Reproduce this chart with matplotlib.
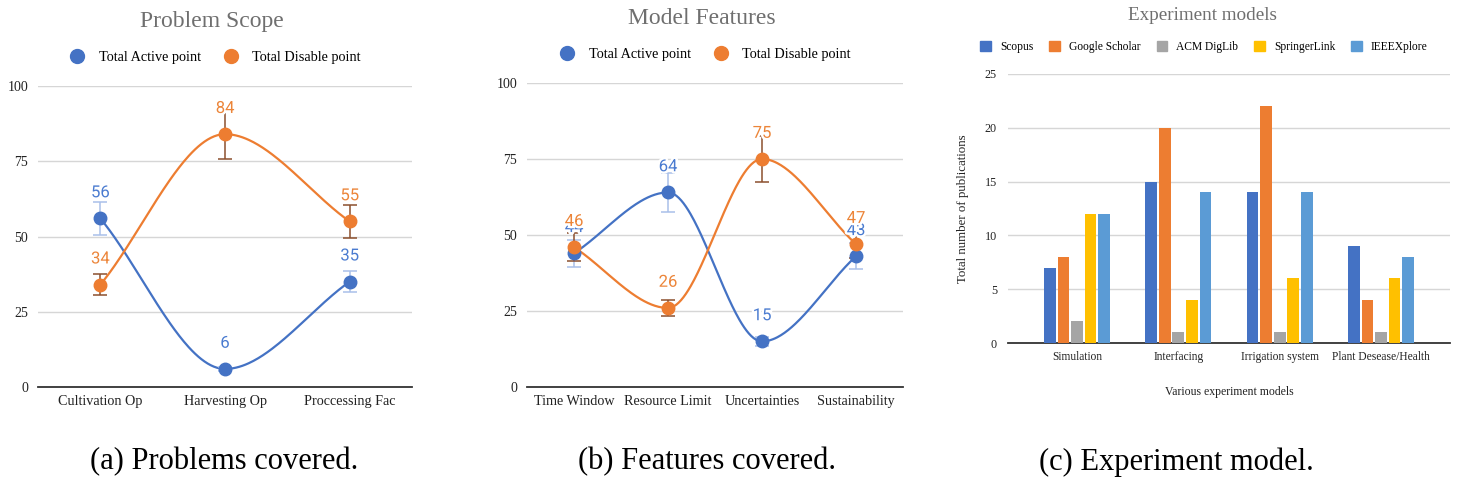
import numpy as np
import matplotlib
matplotlib.use("Agg")
import matplotlib.pyplot as plt
import matplotlib.patheffects as pe
from matplotlib.patches import Patch
from matplotlib.lines import Line2D

# (a) problem scope
prob_cats = ["Cultivation Op", "Harvesting Op", "Proccessing Fac"]
prob_active = [56, 6, 35]
prob_disable = [34, 84, 55]
prob_active_err = [5.6, 0.6, 3.5]
prob_disable_err = [3.4, 8.4, 5.5]

# (b) model features
feat_cats = ["Time Window", "Resource Limit", "Uncertainties", "Sustainability"]
feat_active = [44, 64, 15, 43]
feat_disable = [46, 26, 75, 47]
feat_active_err = [4.4, 6.4, 1.5, 4.3]
feat_disable_err = [4.6, 2.6, 7.5, 4.7]

# (c) experiment models
exp_cats = ["Simulation", "Interfacing", "Irrigation system", "Plant Desease/Health"]
exp_sources = ["Scopus", "Google Scholar", "ACM DigLib", "SpringerLink", "IEEEXplore"]
scopus = [7, 15, 14, 9]
google_scholar = [8, 20, 22, 4]
acm_diglib = [2, 1, 1, 1]
springerlink = [12, 4, 6, 6]
ieeexplore = [12, 14, 14, 8]

BLUE = "#4472C4"
ORANGE = "#ED7D31"
SERIF = "Liberation Serif"


def smooth(ys, n=80):
    # cubic hermite, flat at local extrema, secant slope at the ends
    ys = np.asarray(ys, float)
    d = np.diff(ys)
    m = np.zeros_like(ys)
    m[0], m[-1] = d[0], d[-1]
    for i in range(1, len(ys) - 1):
        if d[i - 1] * d[i] > 0:
            m[i] = (d[i - 1] + d[i]) / 2
    xs_out, ys_out = [], []
    for i in range(len(ys) - 1):
        t = np.linspace(0, 1, n)
        h00 = 2 * t**3 - 3 * t**2 + 1
        h10 = t**3 - 2 * t**2 + t
        h01 = -2 * t**3 + 3 * t**2
        h11 = t**3 - t**2
        xs_out.append(i + t)
        ys_out.append(h00 * ys[i] + h10 * m[i] + h01 * ys[i + 1] + h11 * m[i + 1])
    return np.concatenate(xs_out), np.concatenate(ys_out)


def style_axes(ax, ymax, step):
    ax.set_ylim(0, ymax)
    ax.set_yticks(np.arange(0, ymax + 1, step))
    ax.grid(axis="y", color="#d6d6d6", lw=1)
    ax.set_axisbelow(True)
    for s in ["top", "right", "left"]:
        ax.spines[s].set_visible(False)
    ax.spines["bottom"].set_color("#333333")
    ax.spines["bottom"].set_linewidth(1.3)
    ax.tick_params(length=0, colors="#222222")


def line_panel(ax, cats, active, disable, a_err, d_err):
    x = np.arange(len(cats))
    series = [
        (active, a_err, BLUE, "#a9c0ea", "#4a7bd0", "Total Active point"),
        (disable, d_err, ORANGE, "#8c4f2d", "#ec8539", "Total Disable point"),
    ]
    for k, (vals, err, col, ecol, lcol, name) in enumerate(series):
        sx, sy = smooth(vals)
        ax.plot(sx, sy, color=col, lw=1.6, zorder=3)
        ax.errorbar(x, vals, yerr=err, fmt="none", ecolor=ecol, elinewidth=1.1,
                    capsize=5, capthick=1.1, zorder=4)
        ax.plot(x, vals, "o", color=col, ms=9, zorder=5, label=name)
        for xi, v in zip(x, vals):
            ax.annotate(str(v), (xi, v), xytext=(0, 18.5), textcoords="offset points",
                        ha="center", va="center", color=lcol, fontsize=12,
                        family="Roboto", zorder=6 + k,
                        path_effects=[pe.withStroke(linewidth=3.5, foreground="white")])
    ax.set_xlim(-0.5, len(cats) - 0.5)
    ax.set_xticks(x)
    ax.set_xticklabels(cats, family=SERIF, fontsize=10.2, va="baseline")
    style_axes(ax, 100, 25)
    for lab in ax.get_yticklabels():
        lab.set_family(SERIF)
        lab.set_fontsize(10)
    ax.tick_params(axis="x", pad=13)
    ax.tick_params(axis="y", pad=7)


fig = plt.figure(figsize=(14.63, 4.78), dpi=100)

ax1 = fig.add_axes([38 / 1463, 1 - 387 / 478, 374 / 1463, 301 / 478])
line_panel(ax1, prob_cats, prob_active, prob_disable, prob_active_err, prob_disable_err)
ax2 = fig.add_axes([527 / 1463, 1 - 387 / 478, 376 / 1463, 304 / 478])
line_panel(ax2, feat_cats, feat_active, feat_disable, feat_active_err, feat_disable_err)

for ax, cx, ty, title, ly in [(ax1, 212, 22, "Problem Scope", 57), (ax2, 702, 19, "Model Features", 54)]:
    fig.text(cx / 1463, 1 - ty / 478, title, ha="center", va="center",
             family=SERIF, fontsize=17, color="#6f6f6f")
    handles = [Line2D([], [], marker="o", ls="none", color=BLUE, ms=10),
               Line2D([], [], marker="o", ls="none", color=ORANGE, ms=10)]
    ax.legend(handles, ["Total Active point", "Total Disable point"], loc="center",
              bbox_to_anchor=(cx / 1463, 1 - ly / 478), bbox_transform=fig.transFigure,
              ncol=2, frameon=False, prop={"family": SERIF, "size": 10.3},
              handletextpad=0.5, columnspacing=1.1, borderpad=0)

# (c) bar chart
ax3 = fig.add_axes([1008 / 1463, 1 - 343 / 478, 442 / 1463, 269 / 478])
bar_series = [scopus, google_scholar, acm_diglib, springerlink, ieeexplore]
bar_colors = ["#4472C4", "#ED7D31", "#A5A5A5", "#FFC000", "#5B9BD5"]
x = np.arange(len(exp_cats))
step, width = 0.134, 0.115
for i, (vals, col, name) in enumerate(zip(bar_series, bar_colors, exp_sources)):
    ax3.bar(x + (i - 2) * step, vals, width=width, color=col, label=name, zorder=3)
ax3.set_xlim(-0.68, 3.68)
ax3.set_xticks(x)
ax3.set_xticklabels(exp_cats, family=SERIF, fontsize=8.3, va="baseline")
style_axes(ax3, 25, 5)
for lab in ax3.get_yticklabels():
    lab.set_family(SERIF)
    lab.set_fontsize(8.7)
ax3.tick_params(axis="x", pad=12)
ax3.tick_params(axis="y", pad=8)
ax3.set_ylabel("Total number of publications", family=SERIF, fontsize=9.3, color="#222222", labelpad=11)
ax3.set_xlabel("Various experiment models", family=SERIF, fontsize=8.5, color="#222222", labelpad=17)
fig.text(1203 / 1463, 1 - 15 / 478, "Experiment models", ha="center", va="center",
         family=SERIF, fontsize=13.8, color="#6f6f6f")
ax3.legend([Patch(color=c) for c in bar_colors], exp_sources, loc="center",
           bbox_to_anchor=(1204 / 1463, 1 - 47 / 478), bbox_transform=fig.transFigure,
           ncol=5, frameon=False, prop={"family": SERIF, "size": 8.3},
           handlelength=0.9, handleheight=0.9, handletextpad=0.8, columnspacing=1.4, borderpad=0)

# captions
for cx, cap in [(224, "(a) Problems covered."), (707, "(b) Features covered."), (1176, "(c) Experiment model.")]:
    fig.text(cx / 1463, 1 - 462 / 478, cap, ha="center", va="center", family=SERIF, fontsize=22)

fig.savefig("out.png", dpi=100)
